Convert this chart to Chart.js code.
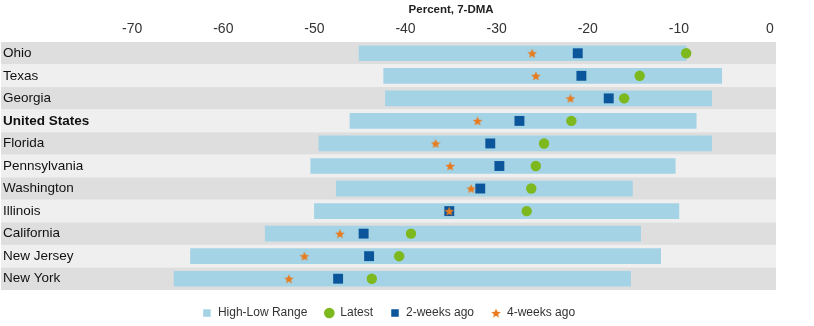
<!DOCTYPE html>
<html>
<head>
<meta charset="utf-8">
<script src="https://cdn.jsdelivr.net/npm/chart.js@4"></script>
<style>
  html, body { margin: 0; padding: 0; background: #fff; overflow: hidden; }
  #wrap { width: 814px; height: 326px; }
</style>
</head>
<body>
<div id="wrap"><canvas id="chart"></canvas></div>
<script>
var categories = ['Ohio', 'Texas', 'Georgia', 'United States', 'Florida', 'Pennsylvania', 'Washington', 'Illinois', 'California', 'New Jersey', 'New York'];
var rangeLow = [-45.1, -42.4, -42.2, -46.1, -49.5, -50.4, -47.6, -50.0, -55.4, -63.6, -65.4];
var rangeHigh = [-9.2, -5.3, -6.4, -8.1, -6.4, -10.4, -15.1, -10.0, -14.2, -12.0, -15.3];
var latest = [-9.2, -14.3, -16.0, -21.8, -24.8, -25.7, -26.2, -26.7, -39.4, -40.7, -43.7];
var twoWeeksAgo = [-21.1, -20.7, -17.7, -27.5, -30.7, -29.7, -31.8, -35.2, -44.6, -44.0, -47.4];
var fourWeeksAgo = [-26.1, -25.7, -21.9, -32.1, -36.7, -35.1, -32.8, -35.2, -47.2, -51.1, -52.8];
var xTicks = [-70, -60, -50, -40, -30, -20, -10, 0];

var FONT = "'Liberation Sans', Arial, sans-serif";

// filled 5-point star for the 4-weeks-ago markers
function makeStar(size, color) {
  var c = document.createElement('canvas');
  c.width = size; c.height = size;
  var g = c.getContext('2d');
  var cx = size / 2, cy = size / 2 + 0.5, ro = size / 2, ri = ro * 0.45;
  g.beginPath();
  for (var i = 0; i < 10; i++) {
    var r = i % 2 ? ri : ro;
    var a = -Math.PI / 2 + i * Math.PI / 5;
    g.lineTo(cx + r * Math.cos(a), cy + r * Math.sin(a));
  }
  g.closePath();
  g.fillStyle = color;
  g.fill();
  return c;
}
var star = makeStar(10, '#e87b1e');

// alternating grey row bands + axis title
var rowBands = {
  id: 'rowBands',
  beforeDraw: function(chart) {
    var ctx = chart.ctx, a = chart.chartArea, y = chart.scales.y;
    var step = (a.bottom - a.top) / categories.length;
    ctx.save();
    categories.forEach(function(_, i) {
      var c = y.getPixelForValue(i);
      ctx.fillStyle = i % 2 === 0 ? '#dedede' : '#efefef';
      ctx.fillRect(a.left, c - step / 2, a.right - a.left, step);
    });
    var x = chart.scales.x;
    var mid = (x.getPixelForValue(xTicks[0]) + x.getPixelForValue(xTicks[xTicks.length - 1])) / 2;
    ctx.fillStyle = '#222';
    ctx.font = 'bold 11.5px ' + FONT;
    ctx.textAlign = 'center';
    ctx.textBaseline = 'middle';
    ctx.fillText('Percent, 7-DMA', mid, 10);
    ctx.restore();
  }
};

new Chart(document.getElementById('chart'), {
  type: 'bar',
  data: {
    labels: categories,
    datasets: [
      { label: 'High-Low Range', data: rangeLow.map(function(v, i) { return [v, rangeHigh[i]]; }),
        backgroundColor: '#a3d3e5', borderWidth: 0, barThickness: 15, pointStyle: 'rect', order: 4 },
      { type: 'line', label: 'Latest', data: latest, showLine: false, indexAxis: 'y',
        pointStyle: 'circle', pointRadius: 5.2, backgroundColor: '#7db81e', borderWidth: 0, order: 3 },
      { type: 'line', label: '2-weeks ago', data: twoWeeksAgo, showLine: false, indexAxis: 'y',
        pointStyle: 'rect', pointRadius: 7, backgroundColor: '#0b559a', borderWidth: 0, order: 2 },
      { type: 'line', label: '4-weeks ago', data: fourWeeksAgo, showLine: false, indexAxis: 'y',
        pointStyle: star, backgroundColor: '#e87b1e', borderWidth: 0, order: 1 }
    ]
  },
  options: {
    indexAxis: 'y',
    responsive: true, maintainAspectRatio: false, animation: false,
    layout: { autoPadding: false, padding: { left: 1, right: 38, top: 0, bottom: -3 } },
    plugins: {
      tooltip: { enabled: false },
      legend: {
        position: 'bottom',
        labels: {
          usePointStyle: true, boxWidth: 10, boxHeight: 7.5, padding: 17,
          color: '#333', font: { family: FONT, size: 12 },
          sort: function(a, b) { return a.datasetIndex - b.datasetIndex; }
        }
      }
    },
    scales: {
      x: {
        position: 'top', min: -84.4, max: 0.66,
        afterBuildTicks: function(s) { s.ticks = xTicks.map(function(v) { return { value: v }; }); },
        afterFit: function(s) { s.height = 42; s.paddingLeft = 0; s.paddingRight = 0; },
        grid: { display: false, tickLength: 0 }, border: { display: false },
        ticks: { color: '#333', padding: 4, font: { family: FONT, size: 14 } }
      },
      y: {
        afterFit: function(s) { s.width = 0; },
        grid: { display: false, tickLength: 0 }, border: { display: false },
        ticks: {
          mirror: true, padding: 2, color: '#111',
          font: function(c) { return { family: FONT, size: 13.5, weight: c.tick && c.tick.label === 'United States' ? 'bold' : 'normal' }; }
        }
      }
    }
  },
  plugins: [rowBands]
});
</script>
</body>
</html>
